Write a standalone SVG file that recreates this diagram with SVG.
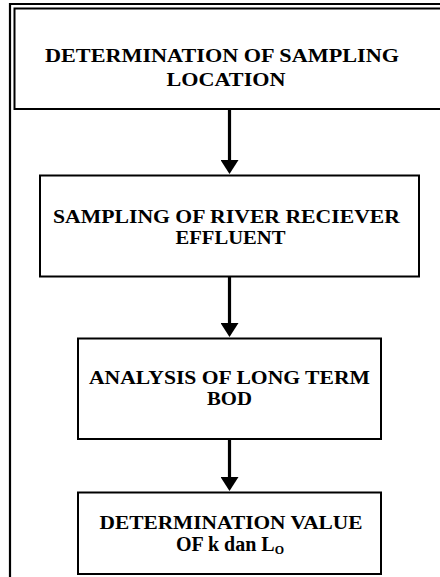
<svg xmlns="http://www.w3.org/2000/svg" width="440" height="577" viewBox="0 0 440 577">
<style>
.box{fill:#fff;stroke:#000;stroke-width:2}
.t{font-weight:bold;font-size:19px;fill:#000;text-anchor:middle}
.frame{stroke:#000;stroke-width:2.2;fill:none}
.conn{stroke:#000;stroke-width:3.2;fill:none}
</style>
<defs>
<marker id="ah" markerUnits="userSpaceOnUse" markerWidth="14" markerHeight="18" viewBox="0 0 14 18" refX="2" refY="9" orient="auto">
<path d="M0,0 L14,9 L0,18 z" fill="#000"/>
</marker>
</defs>
<rect width="440" height="577" fill="#fff"/>
<g id="frame">
<path class="frame" d="M10,577 L10,4 L445,4"/>
</g>
<g font-family="'Liberation Serif', 'Times New Roman', 'DejaVu Serif', serif">
<g id="node1">
<rect class="box" x="14.5" y="8.5" width="440" height="100.5" stroke-width="1.8"/>
<text class="t" x="222" y="61.5" textLength="354" lengthAdjust="spacingAndGlyphs">DETERMINATION OF SAMPLING</text>
<text class="t" x="226" y="86" textLength="119" lengthAdjust="spacingAndGlyphs">LOCATION</text>
</g>
<g id="node2">
<rect class="box" x="40" y="175.5" width="379" height="101"/>
<text class="t" x="226.5" y="222.5" textLength="347" lengthAdjust="spacingAndGlyphs">SAMPLING OF RIVER RECIEVER</text>
<text class="t" x="230.5" y="243.5" textLength="110" lengthAdjust="spacingAndGlyphs">EFFLUENT</text>
</g>
<g id="node3">
<rect class="box" x="78" y="338.5" width="303" height="100.5"/>
<text class="t" x="229.5" y="383.5" textLength="281" lengthAdjust="spacingAndGlyphs">ANALYSIS OF LONG TERM</text>
<text class="t" x="229.5" y="405" textLength="45" lengthAdjust="spacingAndGlyphs">BOD</text>
</g>
<g id="node4">
<rect class="box" x="78" y="492.5" width="303" height="81.5"/>
<text class="t" x="231" y="529" textLength="263" lengthAdjust="spacingAndGlyphs">DETERMINATION VALUE</text>
<text class="t" x="230" y="550.5" style="font-size:20px">OF k dan L<tspan dy="3" style="font-size:12px">O</tspan></text>
</g>
</g>
<g id="connectors">
<line class="conn" x1="229.5" y1="109" x2="229.5" y2="162" marker-end="url(#ah)"/>
<line class="conn" x1="229.5" y1="277" x2="229.5" y2="325" marker-end="url(#ah)"/>
<line class="conn" x1="229.5" y1="439" x2="229.5" y2="479" marker-end="url(#ah)"/>
</g>
</svg>
